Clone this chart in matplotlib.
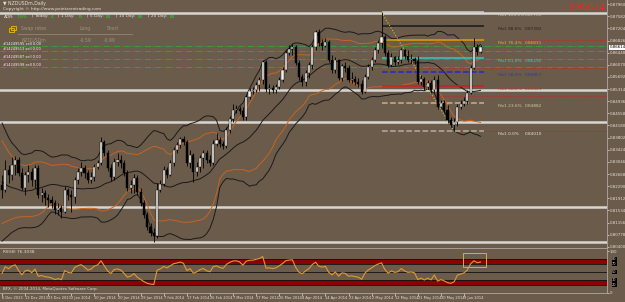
import numpy as np
import pandas as pd
import matplotlib
matplotlib.use('Agg')
import matplotlib.pyplot as plt
from matplotlib.patches import Rectangle

W, H = 625, 302
BG = '#6b5b4b'
TXT = '#e6ded6'
GREEN = '#22e022'

# daily NZDUSDm candles, 6 Dec 2013 .. 12 Jun 2014
opens = [0.8233, 0.8217, 0.8279, 0.8264, 0.8295, 0.8310, 0.8270, 0.8223, 0.8264, 0.8273,
         0.8248, 0.8286, 0.8201, 0.8208, 0.8192, 0.8186, 0.8177, 0.8155, 0.8161, 0.8148,
         0.8217, 0.8201, 0.8195, 0.8248, 0.8273, 0.8286, 0.8270, 0.8248, 0.8257, 0.8289,
         0.8301, 0.8367, 0.8332, 0.8286, 0.8257, 0.8304, 0.8310, 0.8301, 0.8270, 0.8223,
         0.8233, 0.8254, 0.8211, 0.8177, 0.8139, 0.8102, 0.8083, 0.8074, 0.8217, 0.8236,
         0.8279, 0.8264, 0.8301, 0.8342, 0.8357, 0.8376, 0.8367, 0.8301, 0.8326, 0.8273,
         0.8289, 0.8317, 0.8332, 0.8310, 0.8301, 0.8360, 0.8373, 0.8360, 0.8354, 0.8404,
         0.8438, 0.8466, 0.8469, 0.8463, 0.8444, 0.8507, 0.8525, 0.8529, 0.8544, 0.8560,
         0.8616, 0.8532, 0.8535, 0.8529, 0.8538, 0.8560, 0.8591, 0.8644, 0.8656, 0.8663,
         0.8613, 0.8569, 0.8553, 0.8582, 0.8606, 0.8663, 0.8709, 0.8675, 0.8666, 0.8678,
         0.8622, 0.8591, 0.8622, 0.8566, 0.8603, 0.8597, 0.8560, 0.8563, 0.8553, 0.8547,
         0.8522, 0.8569, 0.8600, 0.8622, 0.8653, 0.8675, 0.8694, 0.8644, 0.8606, 0.8631,
         0.8616, 0.8622, 0.8653, 0.8634, 0.8622, 0.8625, 0.8619, 0.8553, 0.8563, 0.8538,
         0.8550, 0.8529, 0.8560, 0.8476, 0.8488, 0.8466, 0.8435, 0.8420, 0.8429, 0.8476,
         0.8485, 0.8494, 0.8519, 0.8597, 0.8663, 0.8647]
highs = [0.8264, 0.8310, 0.8295, 0.8320, 0.8323, 0.8320, 0.8286, 0.8273, 0.8295, 0.8286,
         0.8295, 0.8295, 0.8223, 0.8217, 0.8204, 0.8198, 0.8186, 0.8177, 0.8170, 0.8229,
         0.8223, 0.8217, 0.8257, 0.8286, 0.8304, 0.8295, 0.8279, 0.8273, 0.8298, 0.8310,
         0.8382, 0.8373, 0.8342, 0.8298, 0.8317, 0.8332, 0.8326, 0.8310, 0.8279, 0.8248,
         0.8267, 0.8264, 0.8223, 0.8186, 0.8148, 0.8114, 0.8099, 0.8239, 0.8248, 0.8292,
         0.8289, 0.8310, 0.8351, 0.8367, 0.8382, 0.8385, 0.8373, 0.8342, 0.8332, 0.8304,
         0.8326, 0.8342, 0.8342, 0.8326, 0.8373, 0.8395, 0.8382, 0.8370, 0.8413, 0.8448,
         0.8485, 0.8482, 0.8479, 0.8476, 0.8513, 0.8535, 0.8538, 0.8553, 0.8569, 0.8622,
         0.8622, 0.8547, 0.8544, 0.8547, 0.8569, 0.8600, 0.8653, 0.8669, 0.8672, 0.8669,
         0.8622, 0.8578, 0.8591, 0.8616, 0.8672, 0.8716, 0.8719, 0.8687, 0.8691, 0.8684,
         0.8638, 0.8631, 0.8625, 0.8610, 0.8616, 0.8606, 0.8585, 0.8572, 0.8566, 0.8560,
         0.8578, 0.8610, 0.8631, 0.8663, 0.8684, 0.87703, 0.8700, 0.8653, 0.8644, 0.8634,
         0.8634, 0.8659, 0.8656, 0.8653, 0.8641, 0.8631, 0.8634, 0.8575, 0.8569, 0.8560,
         0.8560, 0.8572, 0.8575, 0.8497, 0.8497, 0.8482, 0.8444, 0.8441, 0.8485, 0.8497,
         0.8507, 0.8529, 0.8606, 0.8691, 0.8672, 0.8669]
lows = [0.8192, 0.8211, 0.8239, 0.8248, 0.8264, 0.8261, 0.8217, 0.8201, 0.8242, 0.8229,
        0.8223, 0.8192, 0.8180, 0.8170, 0.8164, 0.8161, 0.8142, 0.8139, 0.8130, 0.8145,
        0.8186, 0.8148, 0.8177, 0.8236, 0.8261, 0.8254, 0.8239, 0.8239, 0.8245, 0.8282,
        0.8295, 0.8323, 0.8276, 0.8245, 0.8248, 0.8292, 0.8286, 0.8261, 0.8214, 0.8208,
        0.8208, 0.8201, 0.8167, 0.8130, 0.8092, 0.8074, 0.8055, 0.8067, 0.8211, 0.8229,
        0.8254, 0.8261, 0.8292, 0.8332, 0.8348, 0.8357, 0.8292, 0.8286, 0.8242, 0.8261,
        0.8273, 0.8286, 0.8301, 0.8292, 0.8295, 0.8354, 0.8351, 0.8345, 0.8348, 0.8395,
        0.8429, 0.8457, 0.8454, 0.8435, 0.8435, 0.8500, 0.8516, 0.8522, 0.8525, 0.8547,
        0.8522, 0.8516, 0.8519, 0.8519, 0.8532, 0.8553, 0.8585, 0.8638, 0.8638, 0.8606,
        0.8560, 0.8541, 0.8541, 0.8566, 0.8594, 0.8653, 0.8666, 0.8653, 0.8663, 0.8616,
        0.8582, 0.8582, 0.8560, 0.8557, 0.8585, 0.8553, 0.8550, 0.8544, 0.8538, 0.8516,
        0.8519, 0.8563, 0.8591, 0.8616, 0.8644, 0.8659, 0.8634, 0.8600, 0.8603, 0.8606,
        0.8610, 0.8613, 0.8625, 0.8616, 0.8613, 0.8610, 0.8547, 0.8544, 0.8529, 0.8532,
        0.8519, 0.8522, 0.8469, 0.8472, 0.8457, 0.8426, 0.8413, 0.84010, 0.8416, 0.8469,
        0.8479, 0.8485, 0.8516, 0.8594, 0.8638, 0.8644]
closes = [0.8217, 0.8279, 0.8264, 0.8295, 0.8310, 0.8270, 0.8223, 0.8264, 0.8273, 0.8248,
          0.8286, 0.8201, 0.8208, 0.8192, 0.8186, 0.8177, 0.8155, 0.8161, 0.8148, 0.8217,
          0.8201, 0.8195, 0.8248, 0.8273, 0.8286, 0.8270, 0.8248, 0.8257, 0.8289, 0.8301,
          0.8367, 0.8332, 0.8286, 0.8257, 0.8304, 0.8310, 0.8301, 0.8270, 0.8223, 0.8233,
          0.8254, 0.8211, 0.8177, 0.8139, 0.8102, 0.8083, 0.8074, 0.8217, 0.8236, 0.8279,
          0.8264, 0.8301, 0.8342, 0.8357, 0.8376, 0.8367, 0.8301, 0.8326, 0.8273, 0.8289,
          0.8317, 0.8332, 0.8310, 0.8301, 0.8360, 0.8373, 0.8360, 0.8354, 0.8404, 0.8438,
          0.8466, 0.8469, 0.8463, 0.8444, 0.8507, 0.8525, 0.8529, 0.8544, 0.8560, 0.8616,
          0.8532, 0.8535, 0.8529, 0.8538, 0.8560, 0.8591, 0.8644, 0.8656, 0.8663, 0.8613,
          0.8569, 0.8553, 0.8582, 0.8606, 0.8663, 0.8709, 0.8675, 0.8666, 0.8678, 0.8622,
          0.8591, 0.8622, 0.8566, 0.8603, 0.8597, 0.8560, 0.8563, 0.8553, 0.8547, 0.8522,
          0.8569, 0.8600, 0.8622, 0.8653, 0.8675, 0.8694, 0.8644, 0.8606, 0.8631, 0.8616,
          0.8622, 0.8653, 0.8634, 0.8622, 0.8625, 0.8619, 0.8553, 0.8563, 0.8538, 0.8550,
          0.8529, 0.8560, 0.8476, 0.8488, 0.8466, 0.8435, 0.8420, 0.8429, 0.8476, 0.8485,
          0.8494, 0.8519, 0.8597, 0.8663, 0.8647, 0.86614]
# closes before the first visible bar (needed to start the indicators)
lead_closes = [0.8410, 0.8395, 0.8380, 0.8360, 0.8340, 0.8305, 0.8280, 0.8250, 0.8220, 0.8195,
               0.8170, 0.8150, 0.8125, 0.8115, 0.8130, 0.8160, 0.8190, 0.8210, 0.8230]

date_labels = ['6 Dec 2013', '13 Dec 2013', '23 Dec 2013', '2 Jan 2014', '10 Jan 2014',
               '20 Jan 2014', '29 Jan 2014', '7 Feb 2014', '17 Feb 2014', '26 Feb 2014',
               '7 Mar 2014', '17 Mar 2014', '26 Mar 2014', '4 Apr 2014', '14 Apr 2014',
               '23 Apr 2014', '2 May 2014', '12 May 2014', '21 May 2014', '30 May 2014',
               '9 Jun 2014']

fib_high, fib_low = 0.87703, 0.84010
fib_start, fib_end = 115, 146
fib_pcts = [100.0, 88.6, 76.4, 61.8, 50.0, 38.2, 23.6, 0.0]
fib_line_colors = ['#cfcfcf', '#1a1a1a', '#e0a000', '#30c8c8', '#2828d0', '#d02020', '#c8b088', '#b8aca0']
fib_text_colors = ['#cfc7bf', '#222222', '#e8b030', '#30d0d0', '#3030c8', '#e02828', '#d8c8a0', '#e8e0d8']
fib_styles = ['-', '-', '-', '-', '--', '-', '--', '--']

white_levels = [0.8770, 0.8529, 0.8429, 0.8164, 0.8055]
order_levels = [0.8665, 0.8650, 0.8625, 0.8600]
order_labels = ['#14249595 sell 0.00', '#14249513 sell 0.00', '#14249587 sell 0.00', '#14249598 sell 0.00']
red_levels = [0.8684, 0.8597, 0.8510, 0.8401]
red_starts = [156, 124, 129, 137]
last_price = 0.86614

adr_parts = [('ADR:', TXT), ('7.8%', GREEN), ('| Today:', TXT), ('4', GREEN),
             ('| 1 Day:', TXT), ('75', GREEN), ('| 5 Day:', TXT), ('81', GREEN),
             ('| 10 Day:', TXT), ('85', GREEN), ('| 20 Day:', TXT), ('81', GREEN)]

rsi_levels = [80, 70, 50, 30, 20]


def fx(x):
    return x / W


def fy(y):
    return 1 - y / H


all_close = pd.Series(lead_closes + closes)
n_lead = len(lead_closes)
mid = all_close.rolling(20).mean().to_numpy()[n_lead:]
sd = all_close.rolling(20).std(ddof=0).to_numpy()[n_lead:]

delta = all_close.diff()
gain = delta.clip(lower=0).ewm(alpha=1 / 8, adjust=False).mean()
loss = (-delta.clip(upper=0)).ewm(alpha=1 / 8, adjust=False).mean()
rsi = (100 - 100 / (1 + gain / loss)).to_numpy()[n_lead:]

o = np.array(opens)
h = np.array(highs)
l = np.array(lows)
c = np.array(closes)
x = np.arange(len(c))

fig = plt.figure(figsize=(W / 100, H / 100), dpi=100, facecolor=BG)
ax = fig.add_axes([0, 54 / H, 607 / W, 248 / H], facecolor=BG)
ax_r = fig.add_axes([0, 9 / H, 607 / W, 44 / H], facecolor=BG)

xlim = (-0.606, 183.33)
ax.set_xlim(*xlim)
ax.set_ylim(0.8809 - 248 * 0.0003116, 0.8809)

for lv in white_levels:
    ax.axhline(lv, color='#d8d6d2', lw=1.8, zorder=1)
for lv in order_levels:
    ax.axhline(lv, color='#3c9c3c', lw=0.7, ls='-.', zorder=1)
for lv, st in zip(red_levels, red_starts):
    ax.hlines(lv, st, xlim[1], color='#d02020', lw=0.7, ls=(0, (1, 1.5)), zorder=1)

# bollinger bands
ax.plot(x, mid, color='#1a1a1a', lw=0.7, zorder=2)
ax.plot(x, mid + 2 * sd, color='#1a1a1a', lw=0.7, zorder=2)
ax.plot(x, mid - 2 * sd, color='#1a1a1a', lw=0.7, zorder=2)
ax.plot(x, mid + 1.4 * sd, color='#c8641e', lw=0.7, zorder=2)
ax.plot(x, mid - 1.4 * sd, color='#c8641e', lw=0.7, zorder=2)

# fibonacci
rng = fib_high - fib_low
for pct, lc, tc, ls in zip(fib_pcts, fib_line_colors, fib_text_colors, fib_styles):
    lv = fib_low + rng * pct / 100
    ax.hlines(lv, fib_start, fib_end, color=lc, lw=1.1, ls=ls, zorder=3)
    ax.text(150.3, lv - 0.0009, f'Fib1 {pct:.1f}%', color=tc, fontsize=3.1,
            va='center', ha='left', zorder=6)
    ax.text(158.5, lv - 0.0009, f'{lv:.5f}', color=tc, fontsize=3.1, va='center', ha='left', zorder=6)
ax.plot([fib_start, 137], [fib_high, fib_low], color='#d8c020', lw=0.8, ls=':', zorder=4)

# candles
up = c >= o
ax.vlines(x, l, h, color='black', lw=0.6, zorder=4)
body = np.maximum(np.abs(c - o), 0.00008)
ax.bar(x[up], body[up], bottom=np.minimum(o, c)[up], width=0.62, color='#f2f2f2',
       edgecolor='black', lw=0.3, zorder=5)
ax.bar(x[~up], body[~up], bottom=np.minimum(o, c)[~up], width=0.62, color='black',
       edgecolor='black', lw=0.3, zorder=5)

ax.yaxis.tick_right()
ax.set_yticks(0.87960 - 0.00378 * np.arange(21))
ax.yaxis.set_major_formatter(matplotlib.ticker.FormatStrFormatter('%.5f'))
ax.tick_params(axis='y', length=1.5, width=0.5, colors=TXT, labelsize=2.9, pad=0.4)
ax.set_xticks([])
for s in ['top', 'left']:
    ax.spines[s].set_visible(False)
ax.spines['right'].set_color('#b0a8a0')
ax.spines['bottom'].set_color('#b0a8a0')
ax.spines['right'].set_linewidth(0.6)
ax.spines['bottom'].set_linewidth(0.6)
ax.text(1.004, last_price, '0.86614', transform=ax.get_yaxis_transform(), fontsize=2.9,
        color='black', ha='left', va='center',
        bbox=dict(boxstyle='square,pad=0.15', fc='white', ec='none'), clip_on=False, zorder=7)

# rsi panel
ax_r.set_xlim(*xlim)
ax_r.set_ylim(0, 105)
ax_r.axhspan(70, 80, color='#8b0000', lw=0, zorder=1)
ax_r.axhspan(20, 30, color='#8b0000', lw=0, zorder=1)
for lv in rsi_levels:
    ax_r.axhline(lv, color='#111111', lw=0.6, zorder=2)
ax_r.plot(x, rsi, color='#e09a30', lw=0.8, zorder=3)
ax_r.add_patch(Rectangle((139.7, 62), 7, 33, fill=False, ec='#d0b040', lw=0.7, zorder=4))
ax_r.yaxis.tick_right()
ax_r.set_yticks([0, 100])
ax_r.tick_params(axis='y', length=1.5, width=0.5, colors=TXT, labelsize=2.9, pad=0.4)
for lv in rsi_levels:
    ax_r.text(1.008, lv, str(lv), transform=ax_r.get_yaxis_transform(), fontsize=2.5, color=TXT,
              ha='left', va='center', clip_on=False,
              bbox=dict(boxstyle='square,pad=0.1', fc='black', ec='none'))
ax_r.set_xticks(np.arange(0, 141, 7))
ax_r.set_xticklabels(date_labels, ha='left')
ax_r.tick_params(axis='x', length=2, width=0.5, colors=TXT, labelsize=2.6, pad=0.5)
ax_r.spines['top'].set_visible(False)
ax_r.spines['left'].set_visible(False)
for s in ['right', 'bottom']:
    ax_r.spines[s].set_color('#b0a8a0')
    ax_r.spines[s].set_linewidth(0.6)
ax_r.text(0.005, 0.93, 'RSI(8) 76.3038', transform=ax_r.transAxes, fontsize=3.1, color=TXT, va='center')
ax_r.text(0.005, 0.09, 'BFX, © 2004-2014, MetaQuotes Software Corp.', transform=ax_r.transAxes,
          fontsize=2.9, color=TXT, va='center')

# header texts
fig.text(fx(3), fy(3), '▼ NZDUSDm,Daily', fontsize=3.3, color=TXT, va='center')
fig.text(fx(3), fy(9), 'Copyright © http://www.pointzerotrading.com', fontsize=3.1, color=TXT, va='center')
prev = fig.text(fx(4), fy(16.5), adr_parts[0][0], fontsize=3.2, color=adr_parts[0][1], va='center')
for i, (txt, col) in enumerate(adr_parts[1:]):
    gap = 3.2 if txt.startswith('|') else 1.6
    prev = ax.annotate(txt, xy=(1, 0.5), xycoords=prev, xytext=(gap, 0), textcoords='offset points',
                       fontsize=3.2, color=col, va='center', ha='left', annotation_clip=False)
fig.text(fx(606), fy(7), f'{last_price:.5f}', fontsize=6.5, color='#ff2020', ha='right', va='center')

# swap rates box
faint = '#a09080'
for txt, px, py in [('Swap rates', 21, 28.5), ('Long', 80, 28.5), ('Short', 107, 28.5),
                    ('NZDUSDm', 21, 40), ('-0.59', 80, 40), ('-0.99', 104, 40)]:
    fig.text(fx(px), fy(py), txt, fontsize=3.3, color=faint, va='center')
fig.add_artist(plt.Line2D([fx(18), fx(132)], [fy(34), fy(34)], color='#948474', lw=0.6))
fig.add_artist(Rectangle((fx(9), fy(32)), 5 / W, 4 / H, fill=False, ec='#e8c000', lw=0.6))
fig.add_artist(Rectangle((fx(11), fy(30)), 5 / W, 4 / H, fill=False, ec='#e8c000', lw=0.6))

for lv, lab in zip(order_levels, order_labels):
    ax.text(0.3, lv + 0.0006, lab, fontsize=2.6, color='#f0f0f0', va='center', ha='left', zorder=6)

fig.savefig('out.png', dpi=100, facecolor=BG)
